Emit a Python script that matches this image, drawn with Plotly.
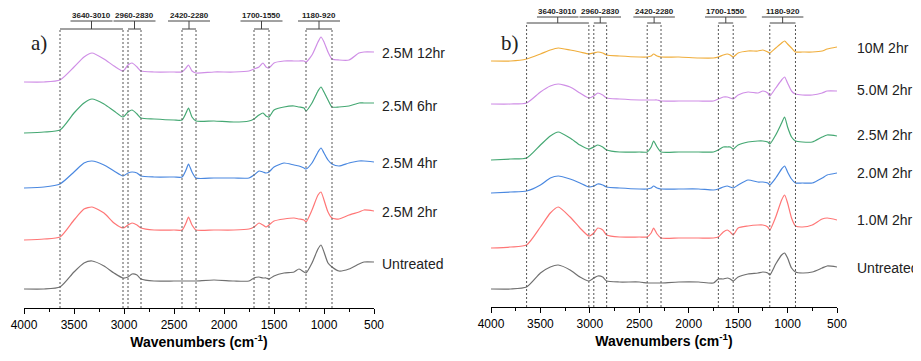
import plotly.graph_objects as go

# Wavenumber grid (cm-1)
wn = [4000, 3800, 3640, 3500, 3400, 3320, 3200, 3100, 3010,
      2960, 2920, 2870, 2830, 2700, 2500, 2420, 2380, 2355, 2320, 2280,
      2100, 1900, 1750, 1700, 1650, 1610, 1580, 1550, 1500,
      1400, 1300, 1250, 1200, 1180, 1120, 1060, 1030, 1000, 960, 920,
      850, 750, 650, 600, 500]

# Panel a) stacked spectra (absorbance + offset, arbitrary units)
a_12hr = [226, 226, 228, 241, 251, 255, 249, 242, 237,
          243, 245, 241, 237, 236, 236, 236, 240, 243, 237, 235,
          236, 236, 237, 239, 241, 245, 241, 240, 245,
          247, 247, 247, 247, 246, 253, 266, 271, 266, 256, 249,
          248, 248, 255, 256, 256]
a_6hr = [175, 176, 178, 195, 205, 209, 204, 197, 191,
         196, 198, 194, 190, 189, 188, 188, 195, 200, 191, 187,
         187, 186, 187, 189, 193, 195, 192, 191, 198,
         201, 202, 201, 200, 197, 205, 217, 221, 216, 208, 201,
         201, 202, 205, 205, 205]
a_4hr = [120, 121, 124, 136, 145, 147, 143, 137, 132,
         135, 136, 135, 132, 131, 131, 131, 138, 144, 136, 130,
         130, 130, 130, 133, 137, 136, 135, 136, 141,
         145, 143, 142, 140, 139, 145, 156, 160, 155, 148, 144,
         142, 145, 147, 147, 146]
a_2hr = [68, 69, 71, 88, 99, 101, 95, 85, 80,
         83, 85, 83, 80, 78, 78, 78, 85, 91, 83, 78,
         78, 78, 79, 81, 85, 83, 81, 83, 87,
         89, 90, 89, 88, 86, 98, 113, 116, 108, 96, 90,
         89, 93, 96, 98, 97]
a_untreated = [19, 19, 21, 36, 45, 47, 42, 35, 30,
               31, 34, 33, 29, 27, 27, 27, 27, 27, 27, 27,
               28, 27, 27, 30, 31, 30, 30, 29, 32,
               35, 36, 39, 36, 35, 45, 59, 63, 56, 45, 41,
               37, 39, 44, 46, 46]

# Panel b) stacked spectra
b_10M = [246, 246, 248, 253, 257, 259, 257, 255, 253,
         254, 255, 254, 252, 251, 250, 250, 251, 253, 251, 250,
         250, 249, 249, 250, 252, 253, 252, 250, 254,
         256, 256, 257, 255, 254, 259, 264, 266, 263, 259, 255,
         255, 255, 256, 258, 260]
b_5M = [203, 203, 204, 215, 221, 223, 220, 214, 209,
        211, 214, 212, 209, 208, 207, 207, 207, 207, 207, 206,
        206, 206, 206, 208, 210, 210, 209, 208, 212,
        215, 214, 216, 214, 211, 219, 227, 230, 224, 216, 213,
        212, 212, 214, 216, 216]
b_2p5M = [147, 148, 149, 162, 171, 175, 169, 162, 158,
          160, 162, 160, 157, 155, 155, 155, 160, 166, 160, 155,
          155, 155, 155, 157, 160, 160, 160, 158, 162,
          165, 166, 166, 165, 163, 172, 184, 190, 180, 170, 166,
          165, 165, 170, 172, 171]
b_2M = [114, 115, 116, 122, 129, 131, 128, 124, 120,
        121, 123, 122, 120, 119, 118, 118, 119, 121, 119, 118,
        118, 118, 117, 118, 120, 121, 120, 119, 122,
        127, 125, 125, 124, 122, 129, 138, 141, 135, 128, 124,
        124, 124, 129, 132, 134]
b_1M = [59, 60, 62, 80, 94, 100, 90, 79, 71,
        74, 79, 77, 72, 70, 70, 70, 74, 79, 73, 69,
        69, 69, 69, 70, 75, 77, 75, 72, 79,
        81, 82, 82, 80, 77, 90, 107, 112, 104, 89, 81,
        80, 82, 88, 89, 87]
b_untreated = [18, 18, 20, 34, 40, 42, 37, 30, 26,
               29, 31, 30, 26, 25, 25, 24, 24, 24, 24, 24,
               25, 25, 24, 28, 28, 29, 28, 26, 30,
               33, 34, 35, 34, 32, 43, 52, 54, 49, 39, 35,
               34, 35, 39, 41, 40]

a_names = ["2.5M 12hr", "2.5M 6hr", "2.5M 4hr", "2.5M 2hr", "Untreated"]
b_names = ["10M 2hr", "5.0M 2hr", "2.5M 2hr", "2.0M 2hr", "1.0M 2hr", "Untreated"]
a_label_y = [255, 202, 145, 96, 44]
b_label_y = [259, 217, 172, 134, 87, 39]

# Band ranges (cm-1)
bands = [(3640, 3010), (2960, 2830), (2420, 2280), (1700, 1550), (1180, 920)]
band_labels = ["3640-3010", "2960-2830", "2420-2280", "1700-1550", "1180-920"]
tick_vals = [4000, 3500, 3000, 2500, 2000, 1500, 1000, 500]

c_purple = "#cf8ee6"
c_green = "#45a873"
c_blue = "#4a88e0"
c_red = "#ff7676"
c_gray = "#707070"
c_orange = "#f0ae3c"

a_series = [a_12hr, a_6hr, a_4hr, a_2hr, a_untreated]
a_colors = [c_purple, c_green, c_blue, c_red, c_gray]
b_series = [b_10M, b_5M, b_2p5M, b_2M, b_1M, b_untreated]
b_colors = [c_orange, c_purple, c_green, c_blue, c_red, c_gray]

FONT = "Liberation Sans, Arial, sans-serif"

# page body has an 8px default margin; size the figure to fill the rest
OFF = 8
W, H = 921 - OFF, 361 - OFF

fig = go.Figure()

for vals, col, nm in zip(a_series, a_colors, a_names):
    fig.add_trace(go.Scatter(x=wn, y=vals, mode="lines", name=nm,
                             line=dict(color=col, width=1.2, shape="spline", smoothing=0.6),
                             xaxis="x", yaxis="y", showlegend=False))
for vals, col, nm in zip(b_series, b_colors, b_names):
    fig.add_trace(go.Scatter(x=wn, y=vals, mode="lines", name=nm,
                             line=dict(color=col, width=1.2, shape="spline", smoothing=0.6),
                             xaxis="x2", yaxis="y2", showlegend=False))

shapes = []
annotations = []


def add_brackets(xr, yr, top, under):
    for (hi, lo), lab in zip(bands, band_labels):
        c = (hi + lo) / 2
        for xv in (hi, lo):
            shapes.append(dict(type="line", xref=xr, yref=yr, x0=xv, x1=xv, y0=0, y1=top,
                               line=dict(color="#555555", width=1, dash="2px,2px")))
        shapes.append(dict(type="line", xref=xr, yref=yr, x0=hi, x1=lo, y0=top, y1=top,
                           line=dict(color="#444444", width=1)))
        shapes.append(dict(type="line", xref=xr, yref=yr, x0=c, x1=c, y0=top, y1=under,
                           line=dict(color="#444444", width=1)))
        shapes.append(dict(type="line", xref=xr, yref=yr, x0=c + 210, x1=c - 210, y0=under, y1=under,
                           line=dict(color="#444444", width=1)))
        annotations.append(dict(x=c, y=under, xref=xr, yref=yr, text="<b>%s</b>" % lab,
                                showarrow=False, yanchor="bottom", xanchor="center", yshift=0,
                                borderpad=0,
                                font=dict(family=FONT, size=8, color="#222222")))


add_brackets("x", "y", 279, 287)
add_brackets("x2", "y2", 284, 290)

for nm, yv in zip(a_names, a_label_y):
    annotations.append(dict(x=1.017, y=yv, xref="x domain", yref="y", text=nm, showarrow=False,
                            xanchor="left", yanchor="middle",
                            font=dict(family=FONT, size=14, color="#222222")))
for nm, yv in zip(b_names, b_label_y):
    annotations.append(dict(x=1.052, y=yv, xref="x2 domain", yref="y2", text=nm, showarrow=False,
                            xanchor="left", yanchor="middle",
                            font=dict(family=FONT, size=14, color="#222222")))

annotations.append(dict(x=(39 - OFF) / W, y=1 - (43 - OFF) / H, xref="paper", yref="paper", text="a)",
                        showarrow=False, xanchor="center", yanchor="middle",
                        font=dict(family="Liberation Serif, Times New Roman, serif", size=21, color="#222222")))
annotations.append(dict(x=(510 - OFF) / W, y=1 - (43 - OFF) / H, xref="paper", yref="paper", text="b)",
                        showarrow=False, xanchor="center", yanchor="middle",
                        font=dict(family="Liberation Serif, Times New Roman, serif", size=21, color="#222222")))

xcommon = dict(range=[4000, 500], tickvals=tick_vals, ticks="outside", ticklen=5, tickwidth=1.2,
               tickcolor="black", showline=True, linecolor="black", linewidth=1.3,
               showgrid=False, zeroline=False, automargin=False,
               tickfont=dict(family=FONT, size=12, color="black"),
               minor=dict(dtick=250, ticks="outside", ticklen=3, tickcolor="black", tickwidth=1),
               title=dict(text="<b>Wavenumbers (cm<sup>-1</sup>)</b>", standoff=6,
                          font=dict(family=FONT, size=14, color="black")))

fig.update_layout(
    template="none",
    width=W, height=H,
    margin=dict(l=0, r=0, t=0, b=0, pad=0),
    paper_bgcolor="white", plot_bgcolor="white",
    xaxis=dict(domain=[(24 - OFF) / W, (374 - OFF) / W], anchor="y", **xcommon),
    xaxis2=dict(domain=[(491 - OFF) / W, (837 - OFF) / W], anchor="y2", **xcommon),
    yaxis=dict(domain=[(361 - 308) / H, 1], range=[0, 308 - OFF], visible=False, anchor="x",
               automargin=False),
    yaxis2=dict(domain=[(361 - 307) / H, 1], range=[0, 307 - OFF], visible=False, anchor="x2",
                automargin=False),
    shapes=shapes, annotations=annotations,
)

fig.write_html("out.html")
